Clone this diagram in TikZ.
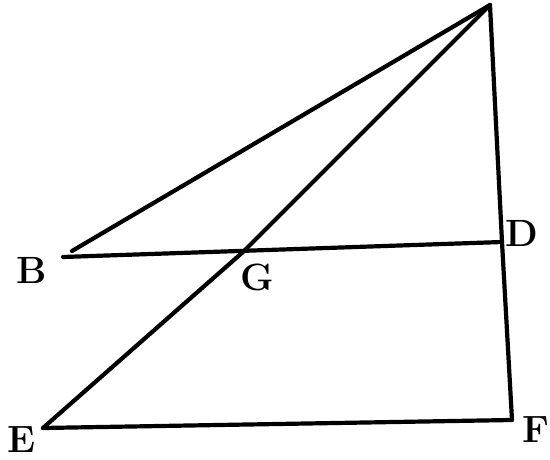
\documentclass[tikz,border=0pt]{standalone}
\usepackage{fontspec}
\setmainfont{Latin Modern Roman}
\begin{document}
\begin{tikzpicture}[x=1pt,y=-1pt,
  edge/.style={line width=4.2pt,line cap=round,line join=round},
  lbl/.style={font=\fontsize{38}{40}\selectfont\bfseries,inner sep=0pt}]
\useasboundingbox (0,0) rectangle (550,460);
\coordinate (A) at (490,5);
\coordinate (B) at (63,257);
\coordinate (Bt) at (72,251);
\coordinate (D) at (502,242);
\coordinate (G) at (243,252);
\coordinate (E) at (43,428);
\coordinate (F) at (512,420);
\draw[edge] (A) -- (Bt);
\draw[edge] (B) -- (D);
\draw[edge] (A) -- (G) -- (E);
\draw[edge] (A) -- (D) -- (F);
\draw[edge] (E) -- (F);
\node[lbl] (lB) at (32,270) {B};
\node[lbl] (lG) at (257,277) {G};
\node[lbl] (lD) at (522,233) {D};
\node[lbl] (lE) at (22,440) {E};
\node[lbl] (lF) at (536,430) {F};
\end{tikzpicture}
\end{document}
